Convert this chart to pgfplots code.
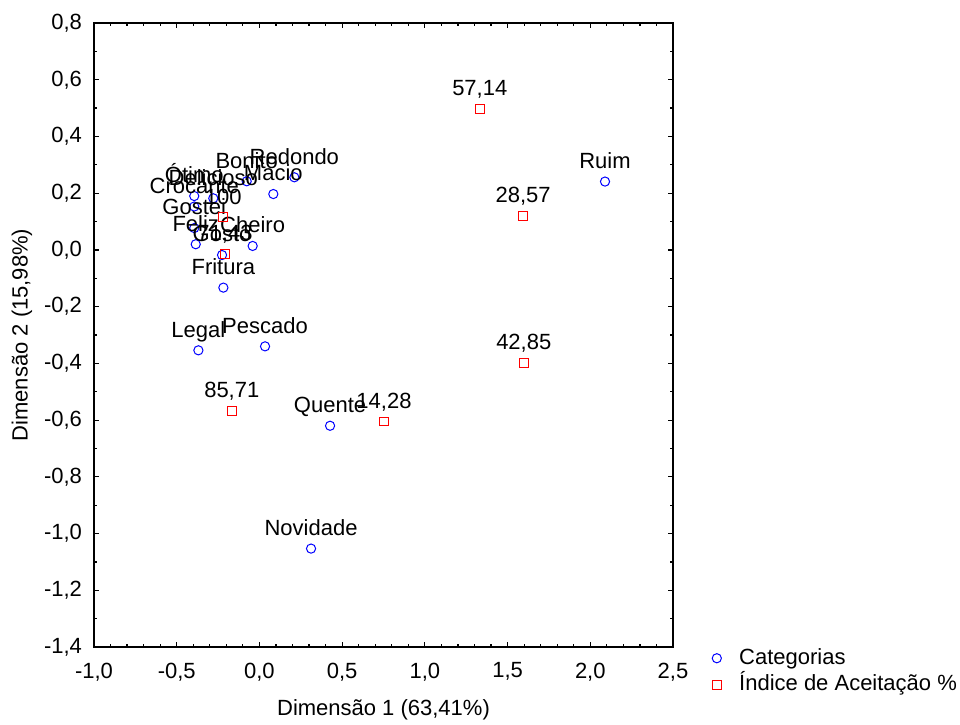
\documentclass[border=0pt]{standalone}
\usepackage{fontspec}
\setmainfont{Liberation Sans}
\usepackage{pgfplots}
\pgfplotsset{compat=1.18}
\begin{document}
\begin{tikzpicture}[font=\fontsize{11}{13.2}\selectfont]
\begin{axis}[
  scale only axis, width=289.5pt, height=312pt,
  xmin=-1, xmax=2.5, ymin=-1.4, ymax=0.8,
  xtick={-1,-0.5,0,0.5,1,1.5,2,2.5},
  ytick={-1.4,-1.2,-1,-0.8,-0.6,-0.4,-0.2,0,0.2,0.4,0.6,0.8},
  minor x tick num=4, minor y tick num=1,
  tick align=inside, major tick length=2.5pt, minor tick length=1.3pt,
  axis line style={line width=0.9pt},
  every tick/.style={black, line width=0.6pt},
  /pgf/number format/fixed, /pgf/number format/fixed zerofill,
  /pgf/number format/precision=1, /pgf/number format/use comma,
  /pgf/number format/assume math mode=true,
  xticklabel style={yshift=-4.3pt},
  yticklabel style={xshift=-2.5pt},
  clip=false,
  xlabel={Dimensão 1 (63,41\%)},
  ylabel={Dimensão 2 (15,98\%)},
  xlabel style={at={(axis description cs:0.5,-0.101)}, anchor=center},
  ylabel style={at={(axis description cs:-0.1244,0.5)}, anchor=center},
  legend style={draw=none, fill=none, inner sep=0pt,
    at={(axis description cs:1.0570,-0.0393)}, anchor=west,
    nodes={inner sep=1.5pt, text height=7.8pt, text depth=2pt},
    row sep=0.5pt},
  legend cell align=left,
  legend image code/.code={\draw[mark repeat=1,mark phase=1,#1] plot coordinates {(0pt,0pt)}; \path (-5pt,0pt) (9.5pt,0pt);},
]
\addplot[only marks, mark=o, blue, mark size=2.3pt, mark options={line width=0.5pt},
  nodes near coords, point meta=explicit symbolic,
  every node near coord/.append style={black, anchor=base, yshift=6.6pt, inner sep=0pt}]
table[meta=label] {
x y label
2.089 0.241 Ruim
0.312 -1.053 Novidade
0.427 -0.620 Quente
0.034 -0.340 Pescado
-0.369 -0.354 Legal
-0.218 -0.133 Fritura
0.211 0.256 Redondo
0.084 0.197 Macio
-0.077 0.242 Bonito
-0.394 0.190 Ótimo
-0.279 0.182 Delicioso
-0.394 0.153 Crocante
-0.394 0.077 Gostei
-0.385 0.020 Feliz
-0.041 0.014 Cheiro
-0.226 -0.018 Gosto
};
\addlegendentry{Categorias}
\addplot[only marks, mark=square, red, mark size=2.2pt, mark options={line width=0.5pt},
  nodes near coords, point meta=explicit symbolic,
  every node near coord/.append style={black, anchor=base, yshift=6.6pt, inner sep=0pt}]
table[meta=label] {
x y label
1.332 0.498 57,14
1.594 0.120 28,57
1.598 -0.398 42,85
-0.167 -0.568 85,71
0.753 -0.605 14,28
-0.218 0.115 100
-0.208 -0.015 71,43
};
\addlegendentry{Índice de Aceitação \%}
\coordinate (bbsw) at (rel axis cs:-0.16235,-0.1234);
\coordinate (bbne) at (rel axis cs:1.49568,1.03686);
\end{axis}
\pgfresetboundingbox
\path (bbsw) rectangle (bbne);
\end{tikzpicture}
\end{document}
